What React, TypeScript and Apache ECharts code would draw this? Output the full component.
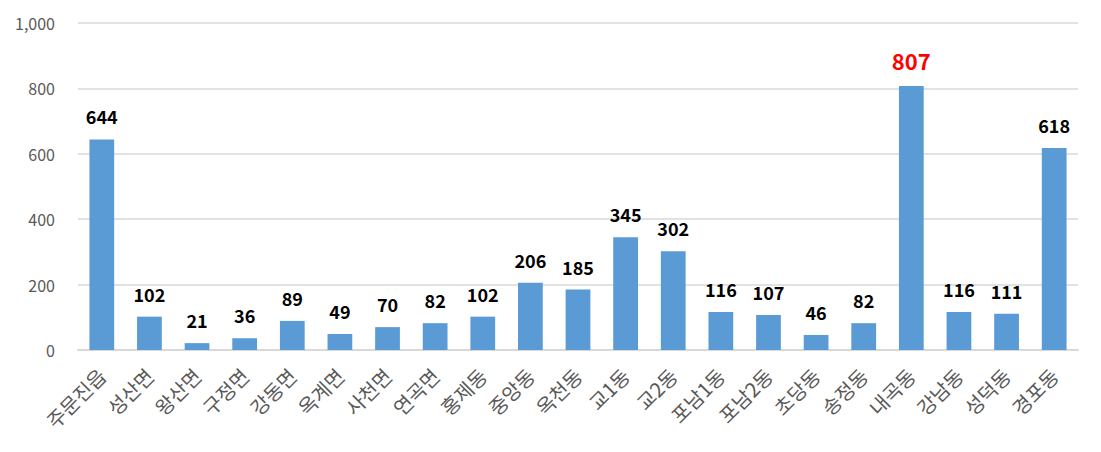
import React, { useEffect, useRef } from "react";
import * as echarts from "echarts";

const categories = ["주문진읍", "성산면", "왕산면", "구정면", "강동면", "옥계면", "사천면", "연곡면", "홍제동", "중앙동", "옥천동", "교1동", "교2동", "포남1동", "포남2동", "초당동", "송정동", "내곡동", "강남동", "성덕동", "경포동"];
const values = [644, 102, 21, 36, 89, 49, 70, 82, 102, 206, 185, 345, 302, 116, 107, 46, 82, 807, 116, 111, 618];
const highlightCategory = "내곡동";

const FONT = "'Noto Sans CJK KR', 'Noto Sans', sans-serif";

export default function App() {
  const ref = useRef<HTMLDivElement>(null);
  useEffect(() => {
    if (!ref.current) return;
    const chart = echarts.init(ref.current, undefined, { renderer: "svg" });
    const data = values.map((v, i) => {
      if (categories[i] === highlightCategory) {
        return {
          value: v,
          label: { color: "#ff0000", fontSize: 22, fontWeight: "bold" as const, distance: 15 },
        };
      }
      return v;
    });
    chart.setOption({
      animation: false,
      grid: { left: 78, right: 23, top: 23, bottom: 102, containLabel: false },
      xAxis: {
        type: "category",
        data: categories,
        axisLine: { show: true, lineStyle: { color: "#d9d9d9", width: 2 } },
        axisTick: { show: false },
        axisLabel: {
          rotate: 45,
          interval: 0,
          color: "#595959",
          fontSize: 20,
          fontFamily: FONT,
          margin: 22,
        },
      },
      yAxis: {
        type: "value",
        min: 0,
        max: 1000,
        interval: 200,
        axisLine: { show: false },
        axisTick: { show: false },
        splitLine: { lineStyle: { color: "#d9d9d9", width: 1.5 } },
        axisLabel: {
          color: "#595959",
          fontSize: 16,
          fontFamily: FONT,
          margin: 23,
          formatter: (v: number) => v.toLocaleString("en-US"),
        },
      },
      series: [
        {
          type: "bar",
          data,
          barWidth: "52%",
          itemStyle: { color: "#5b9bd5" },
          label: {
            show: true,
            position: "top",
            distance: 14,
            color: "#000000",
            fontSize: 18,
            fontWeight: "bold",
            fontFamily: FONT,
          },
        },
      ],
    });
    return () => chart.dispose();
  }, []);
  return (
    <div
      ref={ref}
      style={{ position: "fixed", left: 0, top: 0, width: 1101, height: 452, background: "#fff" }}
    />
  );
}
